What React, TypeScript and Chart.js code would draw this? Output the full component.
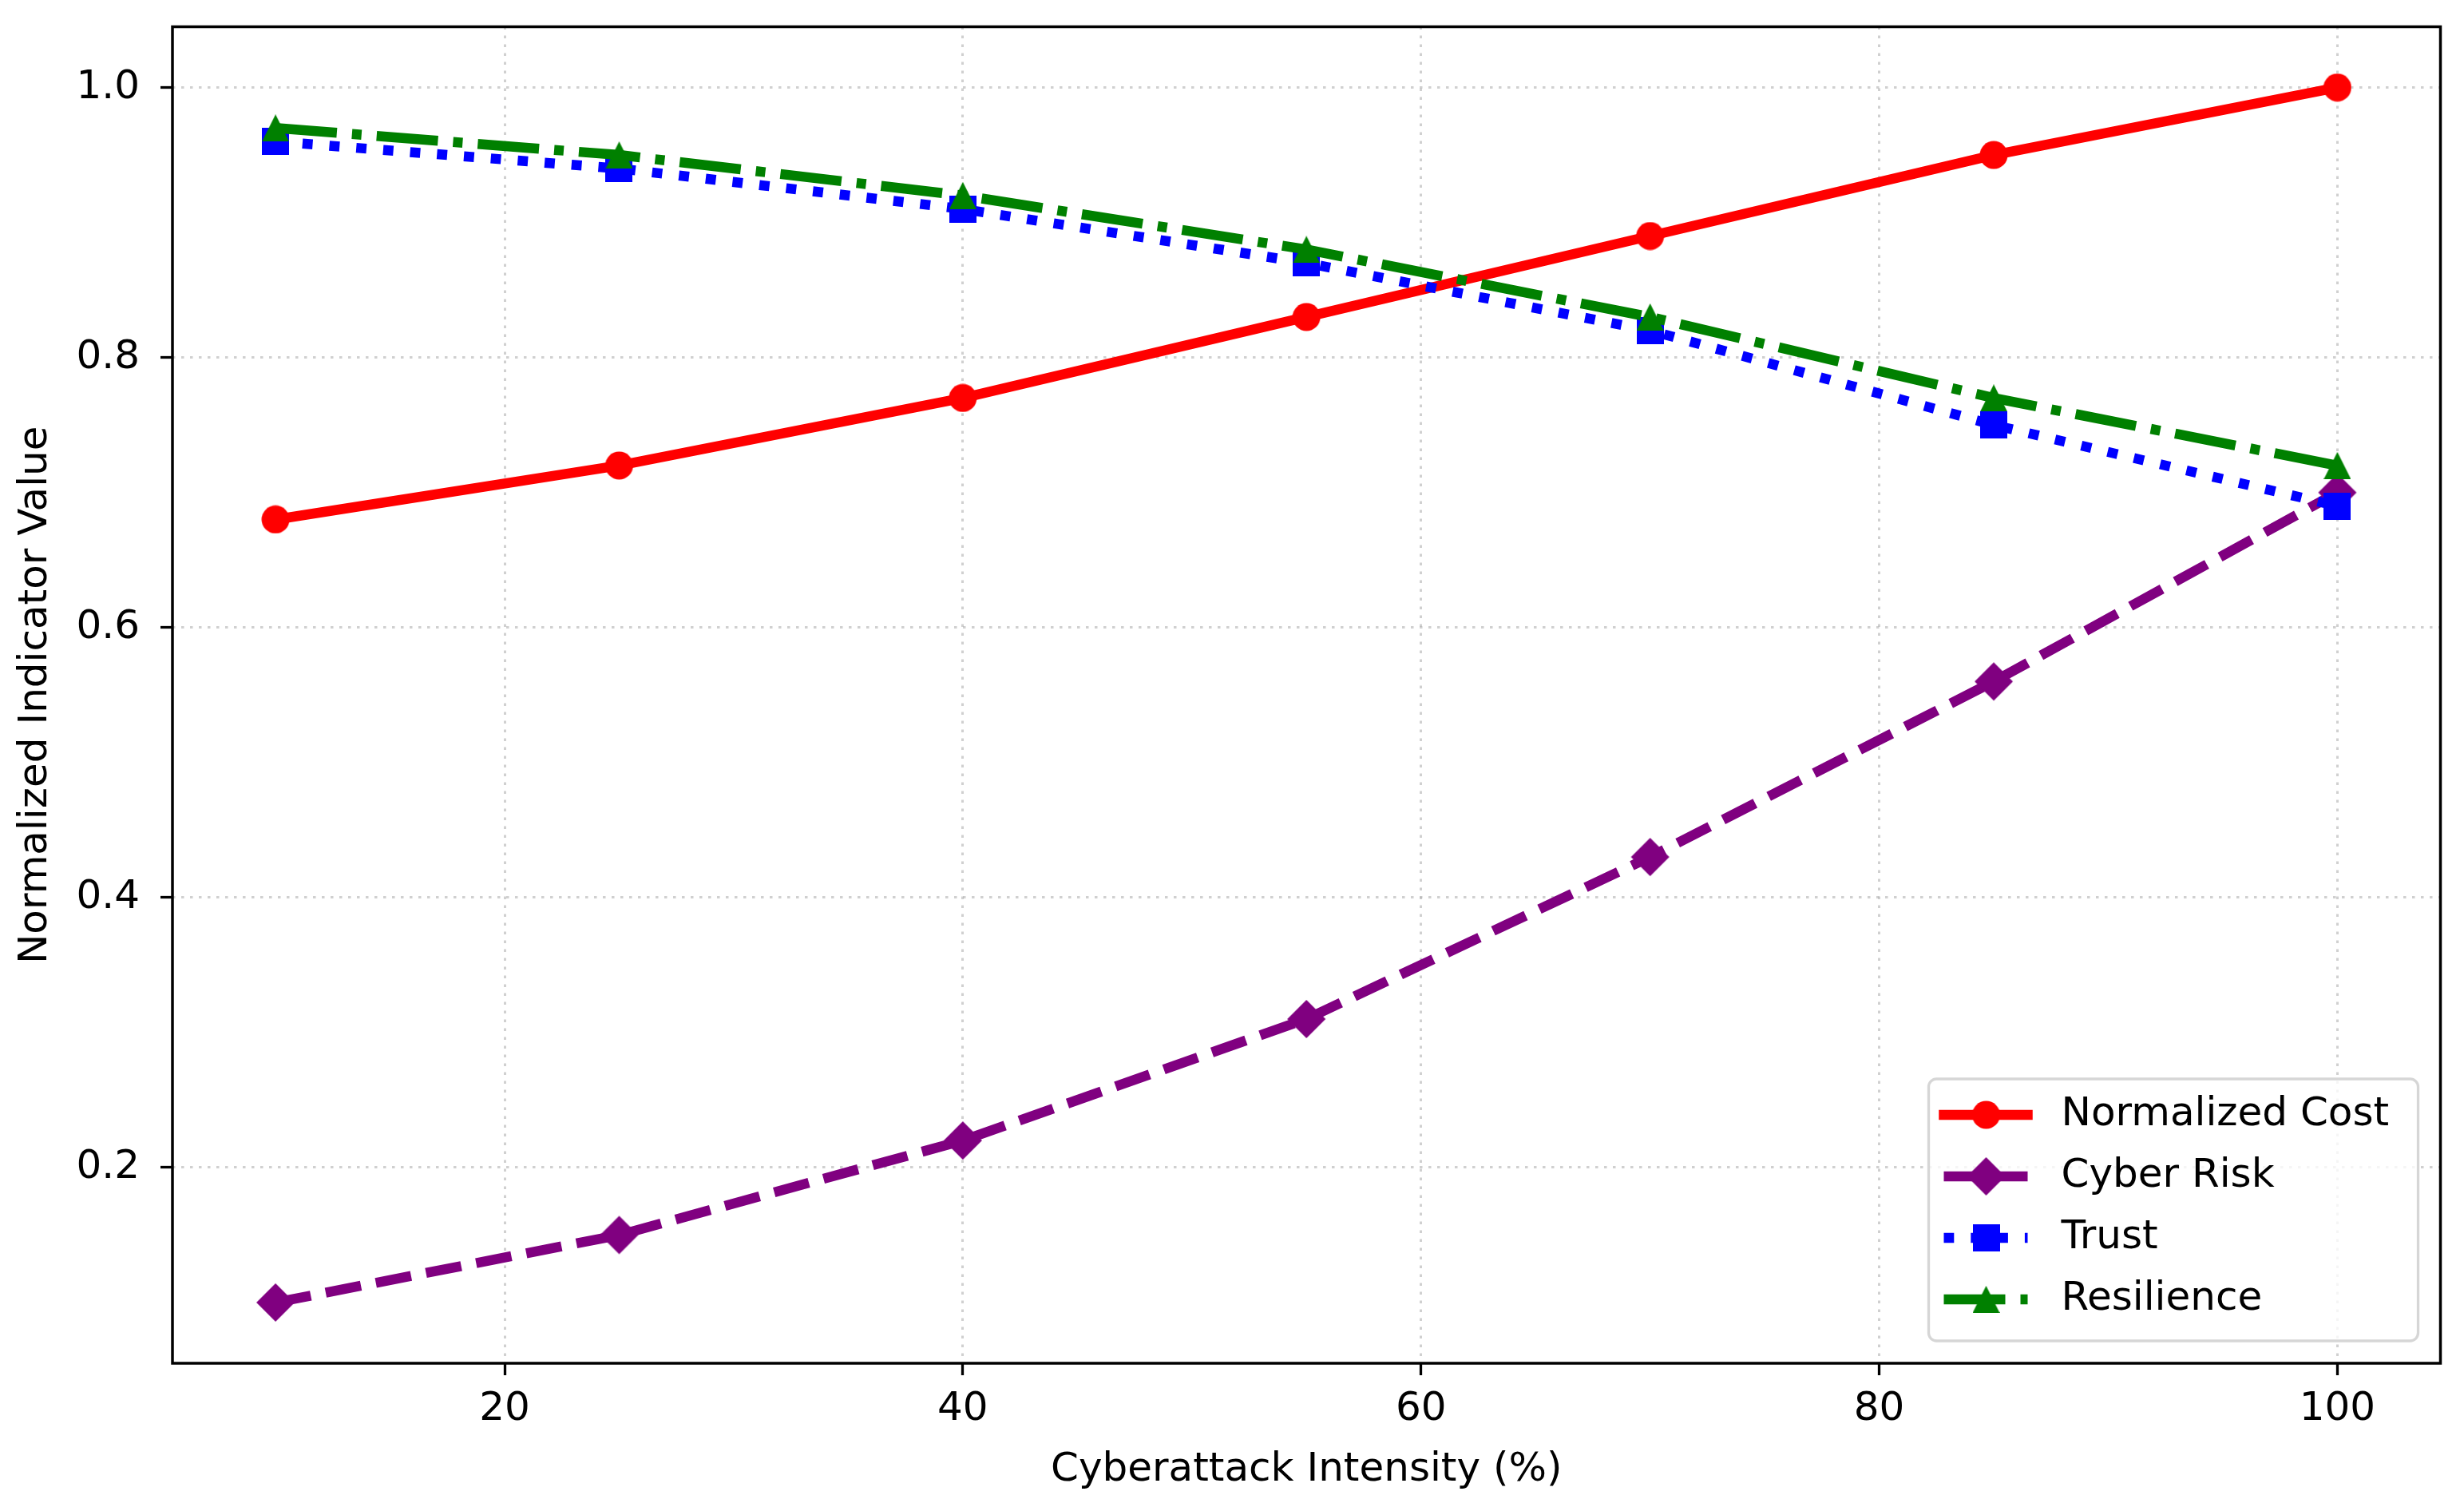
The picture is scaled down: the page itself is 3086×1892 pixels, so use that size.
import { useEffect, useRef } from "react";
import { Chart, registerables } from "chart.js";

Chart.register(...registerables);

// values
const intensity = [10, 25, 40, 55, 70, 85, 100];
const normalizedCost = [0.68, 0.72, 0.77, 0.83, 0.89, 0.95, 1.0];
const cyberRisk = [0.1, 0.15, 0.22, 0.31, 0.43, 0.56, 0.7];
const trust = [0.96, 0.94, 0.91, 0.87, 0.82, 0.75, 0.69];
const resilience = [0.97, 0.95, 0.92, 0.88, 0.83, 0.77, 0.72];

const seriesNames = ["Normalized Cost", "Cyber Risk", "Trust", "Resilience"];
const xTicks = [20, 40, 60, 80, 100];
const yTicks = [0.2, 0.4, 0.6, 0.8, 1.0];

const FONT = "'DejaVu Sans', sans-serif";
const W = 3086;
const H = 1892;

// matplotlib style 5% margins around the data
function paddedRange(values: number[]) {
  const lo = Math.min(...values);
  const hi = Math.max(...values);
  const m = (hi - lo) * 0.05;
  return [lo - m, hi + m];
}

type Shape = "circle" | "square" | "diamond" | "triangle";

function makeMarker(shape: Shape, color: string): HTMLCanvasElement {
  const c = document.createElement("canvas");
  const size = shape === "diamond" ? 50 : shape === "circle" ? 36 : 34;
  c.width = size;
  c.height = size;
  const ctx = c.getContext("2d")!;
  ctx.fillStyle = color;
  ctx.beginPath();
  if (shape === "circle") {
    ctx.arc(18, 18, 17.5, 0, Math.PI * 2);
  } else if (shape === "square") {
    ctx.rect(0, 0, 34, 34);
  } else if (shape === "diamond") {
    ctx.moveTo(25, 1);
    ctx.lineTo(49, 25);
    ctx.lineTo(25, 49);
    ctx.lineTo(1, 25);
    ctx.closePath();
  } else {
    ctx.moveTo(17, 0);
    ctx.lineTo(34, 34);
    ctx.lineTo(0, 34);
    ctx.closePath();
  }
  ctx.fill();
  return c;
}

const framePlugin = {
  id: "frame",
  afterDatasetsDraw(chart: any) {
    const { ctx, chartArea } = chart;
    ctx.save();
    ctx.strokeStyle = "#000";
    ctx.lineWidth = 3.5;
    ctx.strokeRect(chartArea.left, chartArea.top, chartArea.right - chartArea.left, chartArea.bottom - chartArea.top);
    ctx.restore();
  },
};

const legendPlugin = {
  id: "boxLegend",
  afterDraw(chart: any) {
    const { ctx, chartArea } = chart;
    const w = 613;
    const h = 328;
    const x0 = chartArea.right - 28 - w;
    const y0 = chartArea.bottom - 28 - h;
    ctx.save();
    ctx.beginPath();
    ctx.roundRect(x0, y0, w, h, 10);
    ctx.fillStyle = "rgba(255,255,255,0.8)";
    ctx.fill();
    ctx.strokeStyle = "rgba(204,204,204,0.8)";
    ctx.lineWidth = 3.3;
    ctx.stroke();

    chart.data.datasets.forEach((ds: any, i: number) => {
      const cy = y0 + 45 + i * 77;
      ctx.beginPath();
      ctx.setLineDash(ds.borderDash || []);
      ctx.lineCap = ds.borderDash && ds.borderDash.length ? "butt" : "square";
      ctx.strokeStyle = ds.borderColor;
      ctx.lineWidth = ds.borderWidth;
      ctx.moveTo(x0 + 19, cy);
      ctx.lineTo(x0 + 124, cy);
      ctx.stroke();
      ctx.setLineDash([]);
      const m: HTMLCanvasElement = ds.pointStyle;
      ctx.drawImage(m, x0 + 72 - m.width / 2, cy - m.height / 2);
      ctx.fillStyle = "#000";
      ctx.font = `50px ${FONT}`;
      ctx.textBaseline = "middle";
      ctx.textAlign = "left";
      ctx.fillText(ds.label, x0 + 166, cy);
    });
    ctx.restore();
  },
};

export default function App() {
  const canvasRef = useRef<HTMLCanvasElement | null>(null);

  useEffect(() => {
    if (!canvasRef.current) return;
    const [xMin, xMax] = paddedRange(intensity);
    const [yMin, yMax] = paddedRange([...normalizedCost, ...cyberRisk, ...trust, ...resilience]);

    const toPoints = (ys: number[]) => intensity.map((x, i) => ({ x, y: ys[i] }));

    const series = [
      { values: normalizedCost, color: "#ff0000", dash: [] as number[], shape: "circle" as Shape, cap: "square" },
      { values: cyberRisk, color: "#800080", dash: [45, 19], shape: "diamond" as Shape, cap: "butt" },
      { values: trust, color: "#0000ff", dash: [12.8, 21], shape: "square" as Shape, cap: "butt" },
      { values: resilience, color: "#008000", dash: [77, 19, 12, 19], shape: "triangle" as Shape, cap: "butt" },
    ];

    const grid = {
      color: "rgba(176,176,176,0.6)",
      lineWidth: 3,
      tickLength: 15,
      tickColor: "#000",
      tickWidth: 3.3,
      tickBorderDash: [],
    };
    const font = { family: FONT, size: 50 };

    const chart = new Chart(canvasRef.current, {
      type: "line",
      data: {
        datasets: series.map((s, i) => ({
          label: seriesNames[i],
          data: toPoints(s.values),
          borderColor: s.color,
          backgroundColor: s.color,
          borderWidth: 12.5,
          borderDash: s.dash,
          borderCapStyle: s.cap as CanvasLineCap,
          tension: 0,
          fill: false,
          pointStyle: makeMarker(s.shape, s.color),
          pointRadius: 17,
          order: series.length - 1 - i, // later series on top, like matplotlib
        })),
      },
      options: {
        animation: false,
        responsive: false,
        devicePixelRatio: 1,
        layout: { padding: { left: 0, right: 29, top: 33.5, bottom: 0 } },
        plugins: { legend: { display: false }, tooltip: { enabled: false } },
        scales: {
          x: {
            type: "linear",
            min: xMin,
            max: xMax,
            afterBuildTicks: (s: any) => {
              s.ticks = xTicks.map((v) => ({ value: v }));
            },
            afterFit: (s: any) => {
              s.height = 185;
              s.paddingLeft = 0;
              s.paddingRight = 0;
            },
            ticks: { color: "#000", font, padding: 13, maxRotation: 0, autoSkip: false, callback: (v: any) => String(v) },
            grid,
            border: { display: false, dash: [3.5, 7.5] },
            title: { display: true, text: "Cyberattack Intensity (%)", color: "#000", font, padding: { top: 0, bottom: 21 } },
          },
          y: {
            type: "linear",
            min: yMin,
            max: yMax,
            afterBuildTicks: (s: any) => {
              s.ticks = yTicks.map((v) => ({ value: v }));
            },
            afterFit: (s: any) => {
              s.width = 216;
              s.paddingTop = 0;
              s.paddingBottom = 0;
            },
            ticks: { color: "#000", font, padding: 26, autoSkip: false, callback: (v: any) => Number(v).toFixed(1) },
            grid,
            border: { display: false, dash: [3.5, 7.5] },
            title: { display: true, text: "Normalized Indicator Value", color: "#000", font, padding: { top: 15, bottom: 0 } },
          },
        },
      },
      plugins: [framePlugin, legendPlugin],
    });

    return () => {
      chart.destroy();
    };
  }, []);

  return (
    <div style={{ position: "fixed", left: 0, top: 0, width: W, height: H, background: "#fff" }}>
      <canvas ref={canvasRef} width={W} height={H} style={{ width: W, height: H, display: "block" }} />
    </div>
  );
}
